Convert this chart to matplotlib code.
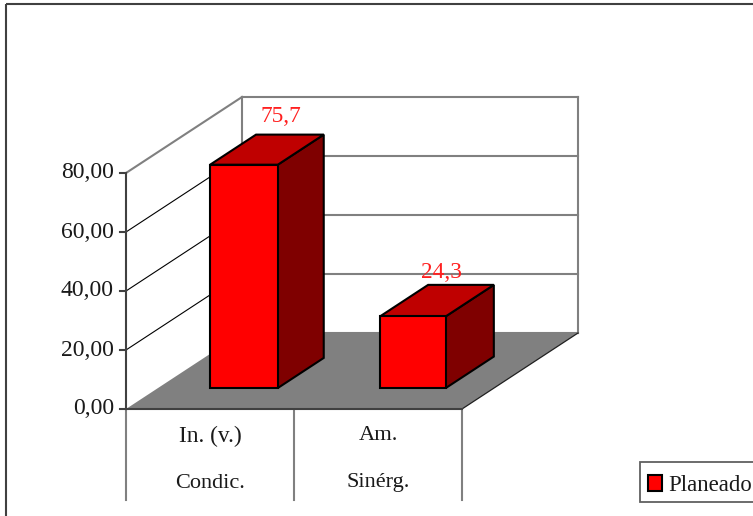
import matplotlib
matplotlib.use("Agg")
import matplotlib.pyplot as plt
from matplotlib.patches import Polygon, Rectangle, Patch

plt.rcParams['font.family'] = ['Liberation Serif', 'DejaVu Serif']

categories_top = ["In. (v.)", "Am."]
categories_bottom = ["Condic.", "Sinérg."]
series_name = "Planeado"
values = [75.7, 24.3]
value_labels = ["75,7", "24,3"]
tick_values = [0, 20, 40, 60, 80]
tick_labels = ["0,00", "20,00", "40,00", "60,00", "80,00"]

W, H = 753, 516
fig = plt.figure(figsize=(W / 100, H / 100), dpi=100)
ax = fig.add_axes([0, 0, 1, 1])
ax.set_xlim(0, W)
ax.set_ylim(H, 0)
ax.axis('off')

# oblique projection of the chart box
X0, X_SLOT, Y0, Y_UNIT = 126.0, 168.0, 409.0, 236.0 / 80.0
DX, DY = 116.0, -76.0

def P(cat, val, depth=0.0):
    return (X0 + X_SLOT * cat + DX * depth, Y0 - Y_UNIT * val + DY * depth)

n = len(values)
vmax = tick_values[-1]
GREY = '#808080'
DARK = '#404040'
LBL = '#1a1a1a'

ax.add_patch(Rectangle((6, 4), W + 20, H + 20, fill=False, ec=DARK, lw=1.5, zorder=1))

# floor
ax.add_patch(Polygon([P(0, 0), P(n, 0), P(n, 0, 1), P(0, 0, 1)], fc=GREY, ec='none', zorder=2))
ax.plot(*zip(P(n, 0), P(n, 0, 1)), color='#202020', lw=0.9, zorder=3)

# back wall and side wall lines
ax.plot(*zip(P(0, 0, 1), P(0, vmax, 1)), color=GREY, lw=1.5, zorder=2)
ax.plot(*zip(P(n, 0, 1), P(n, vmax, 1)), color=GREY, lw=1.5, zorder=2)
for t in tick_values:
    ax.plot(*zip(P(0, t, 1), P(n, t, 1)), color=GREY, lw=1.5, zorder=2)
    if 0 < t < vmax:
        ax.plot(*zip(P(0, t), P(0, t, 1)), color='black', lw=0.8, zorder=2)
ax.plot(*zip(P(0, vmax), P(0, vmax, 1)), color=GREY, lw=1.5, zorder=2)

# value axis
ax.plot(*zip(P(0, 0), P(0, vmax)), color=DARK, lw=1.5, zorder=4)
ax.plot(*zip(P(0, 0), P(n, 0)), color=DARK, lw=1.5, zorder=4)
for t, lab in zip(tick_values, tick_labels):
    x, y = P(0, t)
    ax.plot([x - 6, x], [y, y], color=DARK, lw=1.5, zorder=4)
    ax.text(x - 12, y, lab, ha='right', va='center', fontsize=17, color=LBL)

# category axis
for i in range(n + 1):
    x, y = P(i, 0)
    ax.plot([x, x], [y, 500], color=GREY, lw=1.5, zorder=2)
top_sizes = [16.8, 16.2]
for i, (a, b) in enumerate(zip(categories_top, categories_bottom)):
    x = P(i + 0.5, 0)[0]
    ax.text(x, 436, a, ha='center', va='center', fontsize=top_sizes[i], color=LBL)
    ax.text(x, 483, b, ha='center', va='center', fontsize=16, color=LBL)

# bars
D0 = 0.276
bar_left = [0.31, 0.322]
bar_right = [0.713, 0.713]
bar_back = [0.672, 0.69]
label_x_shift = [0.0, -10.5]
label_y_gap = [18, 12]
EC = 'black'
for i, v in enumerate(values):
    l, r, D1 = i + bar_left[i], i + bar_right[i], bar_back[i]
    front = [P(l, 0, D0), P(r, 0, D0), P(r, v, D0), P(l, v, D0)]
    side = [P(r, 0, D0), P(r, 0, D1), P(r, v, D1), P(r, v, D0)]
    top = [P(l, v, D0), P(r, v, D0), P(r, v, D1), P(l, v, D1)]
    for poly, col in ((side, '#7f0000'), (top, '#bf0000'), (front, '#ff0000')):
        ax.add_patch(Polygon(poly, fc=col, ec=EC, lw=1.5, joinstyle='miter', zorder=5))
    bl, br = P(l, v, D1), P(r, v, D1)
    tx = bl[0] + (br[0] - bl[0]) * 0.36 + label_x_shift[i]
    ty = bl[1] - label_y_gap[i]
    ax.text(tx, ty, value_labels[i], ha='center', va='center', fontsize=16.8,
            color='#ff2020', zorder=6)

# legend
ax.add_patch(Rectangle((640, 462), W, 40, fc='white', ec='#606060', lw=1.3, zorder=6))
leg = ax.legend(handles=[Patch(fc='#ff0000', ec='black', lw=1.5, label=series_name)],
                loc='upper left', bbox_to_anchor=(640, 467), bbox_transform=ax.transData,
                borderaxespad=0, fontsize=16.4, frameon=False,
                handlelength=0.62, handleheight=0.68, handletextpad=0.27,
                borderpad=0.36, labelcolor=LBL)
leg.set_zorder(7)

fig.savefig('out.png', dpi=100)
